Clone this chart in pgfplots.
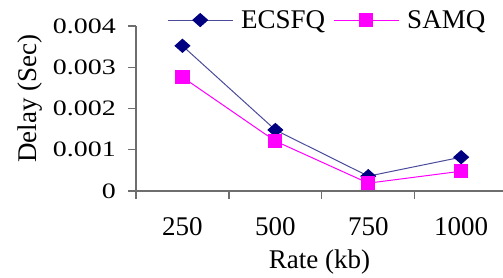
\documentclass[border=0pt]{standalone}
\usepackage{fontspec}
\setmainfont{Liberation Serif}
\usepackage{graphicx}
\usepackage{pgfplots}
\pgfplotsset{compat=1.18}
\definecolor{ecs}{RGB}{0,0,128}
\definecolor{ecsline}{RGB}{75,75,155}
\definecolor{samq}{RGB}{255,0,255}
\definecolor{axgray}{RGB}{110,110,110}
\newcommand{\yl}[1]{\scalebox{1.27}[1]{\fontsize{22}{22}\selectfont #1}}
\begin{document}
\begin{tikzpicture}
\useasboundingbox (-136pt,-86pt) rectangle (367pt,191pt);
\begin{axis}[
  at={(0,0)}, anchor=south west,
  scale only axis, width=367pt, height=165pt,
  xmin=-0.5, xmax=3.45, ymin=0, ymax=0.004,
  axis x line=bottom, axis y line=left,
  axis line style={-, draw=axgray, line width=1.3pt},
  xtick={0,1,2,3}, xticklabels={250,500,750,1000},
  major x tick style={draw=none},
  minor xtick={-0.5,0.5,1.5,2.5},
  minor x tick style={draw=axgray, line width=1.2pt},
  minor tick length=8pt,
  scaled y ticks=false,
  ytick={0,0.001,0.002,0.003,0.004},
  yticklabels={\yl{0},\yl{0.001},\yl{0.002},\yl{0.003},\yl{0.004}},
  major y tick style={draw=axgray, line width=1.2pt},
  major tick length=8pt,
  tick align=outside,
  xticklabel style={anchor=base, yshift=-36pt, inner sep=0pt, font=\fontsize{27}{27}\selectfont},
  yticklabel style={anchor=east, inner sep=0pt, xshift=-12pt},
  xlabel={Rate (kb)},
  ylabel={Delay (Sec)},
  label style={font=\fontsize{27}{27}\selectfont},
  xlabel style={at={(axis description cs:0.5,0)}, anchor=center, yshift=-71pt},
  ylabel style={at={(axis description cs:-0.289,0.56)}, anchor=center},
  legend style={at={(axis description cs:0.0845,1.036)}, anchor=west, draw=none, fill=none,
    inner sep=0pt, column sep=8pt, nodes={inner sep=0pt}, font=\fontsize{27}{27}\selectfont},
  legend columns=-1,
  legend image code/.code={\draw[mark repeat=2,mark phase=2,#1] plot coordinates {(0pt,0pt)(32.5pt,0pt)(65pt,0pt)};},
  clip=false,
]
\addplot[color=ecsline, line width=1pt, mark=diamond*, mark size=6.5pt, mark options={fill=ecs, draw=ecs, xscale=1.5}]
  coordinates {(0,0.00352) (1,0.00148) (2,0.00036) (3,0.00082)};
\addlegendentry{ECSFQ}
\addplot[color=samq, line width=1pt, mark=square*, mark size=6.6pt, mark options={fill=samq, draw=samq}]
  coordinates {(0,0.00276) (1,0.00121) (2,0.00019) (3,0.00048)};
\addlegendentry{SAMQ}
\end{axis}
\end{tikzpicture}
\end{document}
